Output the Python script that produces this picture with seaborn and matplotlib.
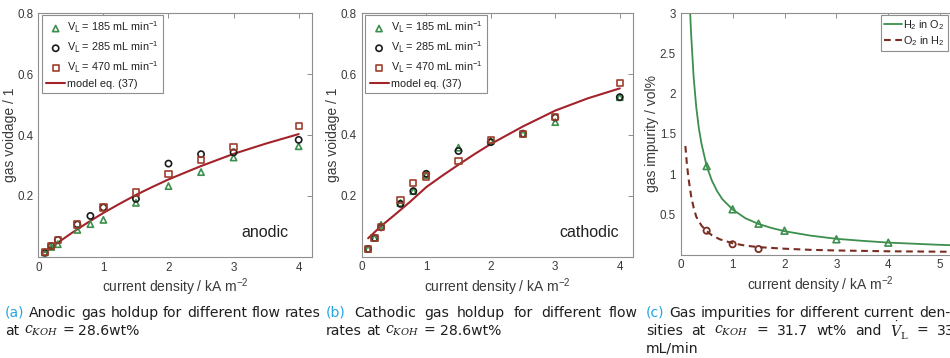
import numpy as np
import pandas as pd
import matplotlib
matplotlib.use("Agg")
import matplotlib.pyplot as plt
import seaborn as sns

# ---------------- data ----------------
# gas holdup measurements, current density in kA m^-2
cd = [0.1, 0.2, 0.3, 0.6, 0.8, 1.0, 1.5, 2.0, 2.5, 3.0, 4.0]

anodic_185 = [0.014, 0.032, 0.041, 0.088, 0.107, 0.121, 0.177, 0.232, 0.278, 0.326, 0.363]
anodic_285 = [0.013, 0.035, 0.055, 0.106, 0.134, 0.162, 0.190, 0.306, 0.337, 0.343, 0.384]
anodic_470 = [0.016, 0.034, 0.055, 0.106, np.nan, 0.162, 0.211, 0.272, 0.317, 0.361, 0.430]

cathodic_185 = [0.025, 0.061, 0.104, 0.176, 0.215, 0.268, 0.358, 0.380, 0.404, 0.442, 0.524]
cathodic_285 = [0.025, 0.061, 0.096, 0.173, 0.215, 0.272, 0.347, 0.376, 0.404, 0.457, 0.524]
cathodic_470 = [0.025, 0.061, 0.096, 0.185, 0.243, 0.263, 0.315, 0.384, 0.404, 0.459, 0.572]

# model eq. (37) curves
model_cd = [0.1, 0.3, 0.5, 0.75, 1.0, 1.25, 1.5, 1.75, 2.0, 2.5, 3.0, 3.5, 4.0]
model_anodic = [0.015, 0.046, 0.076, 0.111, 0.144, 0.174, 0.203, 0.229, 0.254, 0.298, 0.338, 0.372, 0.403]
model_cathodic = [0.060, 0.100, 0.135, 0.180, 0.228, 0.266, 0.302, 0.337, 0.370, 0.428, 0.480, 0.520, 0.553]

# gas impurities, vol%
h2o2_cd = [0.183, 0.2, 0.25, 0.3, 0.35, 0.4, 0.5, 0.6, 0.7, 0.8, 1.0, 1.25, 1.5,
           1.75, 2.0, 2.5, 3.0, 3.5, 4.0, 5.0, 6.0]
h2o2_model = [3.0, 2.75, 2.2, 1.83, 1.57, 1.38, 1.10, 0.92, 0.79, 0.69, 0.56, 0.45, 0.38,
              0.33, 0.29, 0.235, 0.195, 0.17, 0.148, 0.12, 0.10]
o2h2_cd = [0.09, 0.12, 0.15, 0.2, 0.25, 0.3, 0.4, 0.5, 0.6, 0.75, 1.0, 1.25, 1.5,
           2.0, 2.5, 3.0, 4.0, 5.0, 6.0]
o2h2_model = [1.35, 1.12, 0.95, 0.73, 0.58, 0.47, 0.36, 0.29, 0.24, 0.19, 0.14, 0.11, 0.092,
              0.072, 0.058, 0.050, 0.040, 0.035, 0.030]

h2o2_meas_cd = [0.5, 1.0, 1.5, 2.0, 3.0, 4.0]
h2o2_meas = [1.10, 0.562, 0.383, 0.296, 0.189, 0.147]
o2h2_meas_cd = [0.5, 1.0, 1.5]
o2h2_meas = [0.296, 0.127, 0.068]

flow_labels = [r"V$_\mathrm{L}$ = 185 mL min$^{-1}$",
               r"V$_\mathrm{L}$ = 285 mL min$^{-1}$",
               r"V$_\mathrm{L}$ = 470 mL min$^{-1}$"]

# ---------------- style ----------------
sns.set_theme(style="white")
plt.rcParams["font.family"] = ["Liberation Sans", "DejaVu Sans"]
plt.rcParams["mathtext.default"] = "regular"

GREEN = "#3c8f4c"
BLACK = "#1a1a1a"
BROWN = "#9e3f2c"
RED = "#a3232b"
DASH = "#7a2e22"
SPINE = "#8e8e8e"
TXT = "#3a3a3a"
CYAN = "#26a6de"

W, H = 950, 358
fig = plt.figure(figsize=(W / 100, H / 100), dpi=100)


def px_box(l, t, r, b):
    return [l / W, 1 - b / H, (r - l) / W, (b - t) / H]


def style_axes(ax):
    for s in ax.spines.values():
        s.set_color(SPINE)
        s.set_linewidth(0.8)
        s.set_visible(True)
    ax.tick_params(direction="in", length=3.5, width=0.7, top=True, right=True,
                   color=SPINE, labelcolor=TXT, labelsize=8.4, pad=3.5)
    ax.set_xlabel("current density / kA m$^{-2}$", fontsize=10, color=TXT, labelpad=2)


def style_legend(leg):
    leg.get_frame().set_linewidth(0.8)
    for t in leg.get_texts():
        t.set_color("#222222")


markers = ["^", "o", "s"]
mcolors = [GREEN, BLACK, BROWN]


def holdup_panel(ax, series, model, tag, tag_xy):
    for vals, lab, mk, col in zip(series, flow_labels, markers, mcolors):
        df = pd.DataFrame({"cd": cd, "eps": vals}).dropna()
        sns.scatterplot(data=df, x="cd", y="eps", marker=mk, s=20, facecolor="none",
                        edgecolor=col, linewidth=1.2, label=lab, ax=ax, zorder=3)
    sns.lineplot(x=model_cd, y=model, color=RED, linewidth=1.5,
                 label="model eq. (37)", ax=ax, zorder=2)
    ax.set_xlim(0, 4.2)
    ax.set_ylim(0, 0.8)
    ax.set_xticks([0, 1, 2, 3, 4])
    ax.set_yticks([0.2, 0.4, 0.6, 0.8])
    ax.set_yticklabels(["0.2", "0.4", "0.6", "0.8"])
    style_axes(ax)
    ax.set_ylabel("gas voidage / 1", fontsize=10, color=TXT, labelpad=0.5)
    ax.text(tag_xy[0], tag_xy[1], tag, fontsize=11.5, color="#222222",
            ha="center", va="center")
    h, l = ax.get_legend_handles_labels()
    leg = ax.legend(h, l, loc="upper left", bbox_to_anchor=(0.013, 0.992),
                    borderaxespad=0, fontsize=7.8, frameon=True, fancybox=False,
                    edgecolor=SPINE, framealpha=1, handlelength=1.75,
                    handletextpad=0.2, labelspacing=0.38, borderpad=0.4)
    style_legend(leg)


ax_a = fig.add_axes(px_box(38.3, 13.3, 311.7, 256.7))
holdup_panel(ax_a, [anodic_185, anodic_285, anodic_470], model_anodic,
             "anodic", (3.48, 0.081))

ax_b = fig.add_axes(px_box(361.7, 13.3, 632.7, 256.5))
holdup_panel(ax_b, [cathodic_185, cathodic_285, cathodic_470], model_cathodic,
             "cathodic", (3.53, 0.080))

# impurity panel (its right part runs past the figure edge)
ax_c = fig.add_axes(px_box(680.7, 13.3, 680.7 + 5.4 * 51.9, 254.5))
sns.lineplot(x=h2o2_cd, y=h2o2_model, color=GREEN, linewidth=1.3,
             label=r"H$_2$ in O$_2$", ax=ax_c)
sns.lineplot(x=o2h2_cd, y=o2h2_model, color=DASH, linewidth=1.5,
             label=r"O$_2$ in H$_2$", ax=ax_c, dashes=False)
ax_c.lines[-1].set_dashes((3.2, 2.2))
sns.scatterplot(x=h2o2_meas_cd, y=h2o2_meas, marker="^", s=24, facecolor="none",
                edgecolor=GREEN, linewidth=1.2, ax=ax_c, zorder=3, legend=False)
sns.scatterplot(x=o2h2_meas_cd, y=o2h2_meas, marker="o", s=20, facecolor="none",
                edgecolor=DASH, linewidth=1.3, ax=ax_c, zorder=3, legend=False)
ax_c.set_xlim(0, 5.4)
ax_c.set_ylim(0, 3)
ax_c.set_xticks([0, 1, 2, 3, 4, 5])
ax_c.set_yticks([0.5, 1, 1.5, 2, 2.5, 3])
ax_c.set_yticklabels(["0.5", "1", "1.5", "2", "2.5", "3"])
style_axes(ax_c)
ax_c.set_ylabel("gas impurity / vol%", fontsize=10, color=TXT, labelpad=0.5)
h, l = ax_c.get_legend_handles_labels()
leg = ax_c.legend(h[:2], l[:2], loc="upper right", bbox_to_anchor=(948 / W, 1 - 14.5 / H),
                  bbox_transform=fig.transFigure, borderaxespad=0, fontsize=7.8,
                  frameon=True, fancybox=False, edgecolor=SPINE, framealpha=1,
                  handlelength=1.7, handletextpad=0.1, labelspacing=0.25, borderpad=0.3)
style_legend(leg)

# ---------------- captions ----------------
renderer = fig.canvas.get_renderer()
CAP_FONT = ["DejaVu Sans"]
K = "#1e1e1e"


def word(x, y, s, fs, color=K):
    return fig.text(x / W, 1 - y / H, s, fontsize=fs, family=CAP_FONT, color=color,
                    ha="left", va="center", math_fontfamily="dejavuserif")


def width_px(t):
    return t.get_window_extent(renderer).width


# size the caption font so the first line of (a) fills its column
probe = word(0, 0, "(a) Anodic gas holdup for different flow rates", 10)
CAP_FS = 10 * 316 / width_px(probe)
probe.remove()
p1, p2 = word(0, 0, "a a", CAP_FS), word(0, 0, "aa", CAP_FS)
SPACE = width_px(p1) - width_px(p2)
p1.remove()
p2.remove()


def line(x0, y, words, x1=None, last_at=None):
    """Place words left to right; justify to x1, or so the last word starts at last_at."""
    arts = [word(x0, y, s, CAP_FS, c) for s, c in words]
    widths = [width_px(a) for a in arts]
    if x1 is not None:
        gap = (x1 - x0 - sum(widths)) / (len(words) - 1)
    elif last_at is not None:
        gap = (last_at - x0 - sum(widths[:-1])) / (len(words) - 1)
    else:
        gap = SPACE
    x = x0
    for a, w in zip(arts, widths):
        a.set_x(x / W)
        x += w + gap


CKOH = r"$\mathit{c}_{\mathit{KOH}}$"
y1, y2, y3 = 313, 331, 348

line(5, y1, [("(a)", CYAN)] + [(w, K) for w in "Anodic gas holdup for different flow rates".split()])
line(5, y2, [("at", K), (CKOH, K), ("=", K), ("28.6wt%", K)])

line(326, y1, [("(b)", CYAN)] + [(w, K) for w in "Cathodic gas holdup for different flow".split()],
     x1=638)
line(326, y2, [("rates", K), ("at", K), (CKOH, K), ("=", K), ("28.6wt%", K)])

line(646, y1, [("(c)", CYAN)] + [(w, K) for w in "Gas impurities for different current den-".split()])
line(646, y2, [("sities", K), ("at", K), (CKOH, K), ("=", K), ("31.7", K), ("wt%", K),
               ("and", K), (r"$\dot{\mathit{V}}_{\mathrm{L}}$", K), ("=", K), ("330", K)],
     last_at=937)
line(646, y3, [("mL/min", K)])

fig.savefig("out.png", dpi=100)
